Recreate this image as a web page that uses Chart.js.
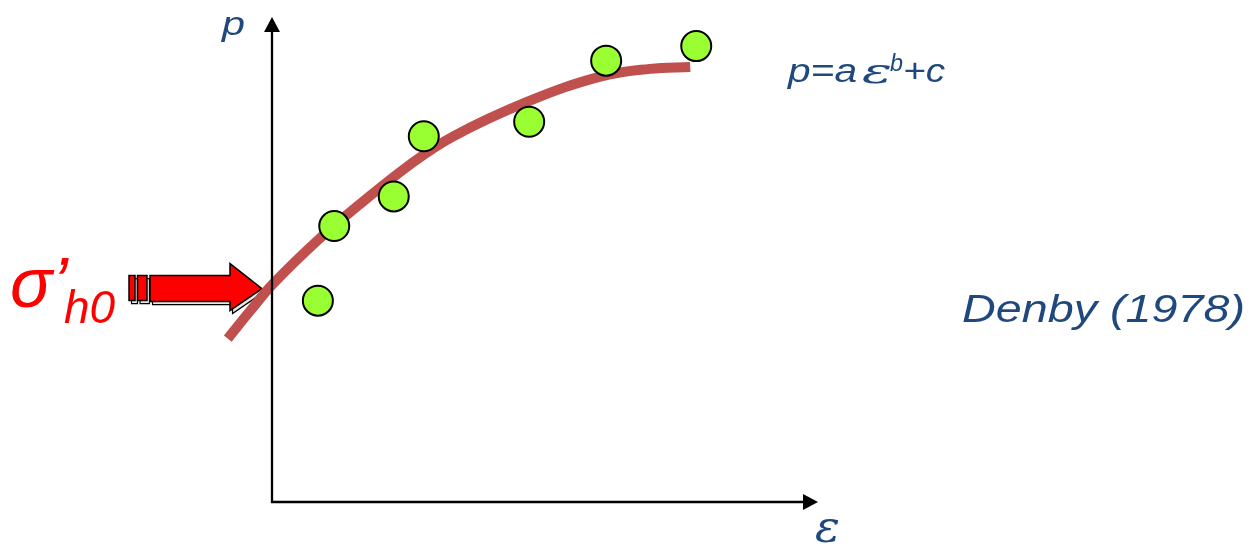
<!DOCTYPE html>
<html>
<head>
<meta charset="utf-8">
<script src="https://cdn.jsdelivr.net/npm/chart.js@4"></script>
<style>
html,body{margin:0;padding:0;background:#fff;}
#wrap{width:1252px;height:547px;position:relative;}
</style>
</head>
<body>
<div id="wrap"><canvas id="c"></canvas></div>
<script>
// Measured data points (strain ε, pressure p) in arbitrary units
const pointX = [0.84, 1.14, 2.23, 2.78, 4.71, 6.12, 7.77];
const pointY = [4.15, 5.69, 6.30, 7.54, 7.84, 9.10, 9.40];
// Fitted curve p = a ε^b + c
const curveX = [-0.81, -0.40, 0.02, 0.88, 1.61, 2.53, 3.32, 4.67, 6.01, 6.92, 7.66];
const curveY = [3.37, 3.94, 4.50, 5.44, 6.14, 6.96, 7.54, 8.25, 8.77, 8.93, 8.97];
// Labels
const yAxisLabel = "p";
const xAxisLabel = "ε";
const formulaParts = ["p=a", "ε", "b", "+c"];
const sourceLabel = "Denby (1978)";
const sigmaLabel = "σ’";
const sigmaSub = "h0";

const BLUE = "#1f497d";
const RED = "#ff0000";

function fitText(ctx, str, x, baseline, font, color, width) {
  ctx.save();
  ctx.font = font;
  ctx.fillStyle = color;
  ctx.textBaseline = "alphabetic";
  ctx.textAlign = "left";
  const w = ctx.measureText(str).width;
  const sx = width ? width / w : 1;
  ctx.translate(x, baseline);
  ctx.scale(sx, 1);
  ctx.fillText(str, 0, 0);
  ctx.restore();
}

const decorPlugin = {
  id: "decor",
  beforeDatasetsDraw(chart) {
    const ctx = chart.ctx;
    const yS = chart.scales.y;
    const xS = chart.scales.x;
    const cy = yS.getPixelForValue(4.4);
    const tipX = xS.getPixelForValue(0) - 10;
    const shaft = [[150, cy - 13], [230, cy - 13], [230, cy - 25], [tipX, cy], [230, cy + 22], [230, cy + 13], [150, cy + 13]];
    const bars = [[129, 135], [137.5, 147]];
    function drawShape(dx, dy, fill, stroke, lw) {
      ctx.save();
      ctx.translate(dx, dy);
      ctx.fillStyle = fill;
      ctx.strokeStyle = stroke;
      ctx.lineWidth = lw;
      ctx.lineJoin = "miter";
      ctx.beginPath();
      shaft.forEach((p, i) => i ? ctx.lineTo(p[0], p[1]) : ctx.moveTo(p[0], p[1]));
      ctx.closePath();
      ctx.fill(); ctx.stroke();
      bars.forEach(b => {
        ctx.beginPath();
        ctx.rect(b[0], cy - 13, b[1] - b[0], 25);
        ctx.fill(); ctx.stroke();
      });
      ctx.restore();
    }
    drawShape(2.5, 3, "#e8e8e8", "#000", 1.2);
    drawShape(0, 0, RED, "#000", 1.5);
  },
  afterDatasetsDraw(chart) {
    const ctx = chart.ctx;
    const a = chart.chartArea;
    const x0 = chart.scales.x.getPixelForValue(0), y0 = a.bottom;
    ctx.save();
    ctx.strokeStyle = "#000";
    ctx.fillStyle = "#000";
    ctx.lineWidth = 2.3;
    // y axis
    ctx.beginPath();
    ctx.moveTo(x0, y0 + 1);
    ctx.lineTo(x0, a.top + 14);
    ctx.stroke();
    ctx.beginPath();
    ctx.moveTo(x0, a.top);
    ctx.lineTo(x0 - 8, a.top + 15);
    ctx.lineTo(x0 + 8, a.top + 15);
    ctx.closePath();
    ctx.fill();
    // x axis
    ctx.beginPath();
    ctx.moveTo(x0 - 1, y0);
    ctx.lineTo(a.right - 14, y0);
    ctx.stroke();
    ctx.beginPath();
    ctx.moveTo(a.right, y0);
    ctx.lineTo(a.right - 15, y0 - 8);
    ctx.lineTo(a.right - 15, y0 + 8);
    ctx.closePath();
    ctx.fill();
    ctx.restore();
  },
  afterDraw(chart) {
    const ctx = chart.ctx;
    fitText(ctx, yAxisLabel, 222, 35, "italic 34px 'Liberation Sans'", BLUE, 23);
    fitText(ctx, xAxisLabel, 815, 542, "italic 44px 'DejaVu Serif'", BLUE, 25);
    fitText(ctx, formulaParts[0], 788, 82, "italic 34px 'Liberation Sans'", BLUE, 69);
    fitText(ctx, formulaParts[1], 862, 83, "italic 36px 'DejaVu Serif'", BLUE, 30);
    fitText(ctx, formulaParts[2], 890, 71, "italic 23px 'Liberation Sans'", BLUE, 13);
    fitText(ctx, formulaParts[3], 903, 82, "italic 34px 'Liberation Sans'", BLUE, 42);
    fitText(ctx, sourceLabel, 962, 322, "italic 38px 'Liberation Sans'", BLUE, 283);
    fitText(ctx, sigmaLabel, 10, 307, "italic 70px 'Liberation Sans'", RED, null);
    fitText(ctx, sigmaSub, 64, 323, "italic 46px 'Liberation Sans'", RED, null);
  }
};

new Chart(document.getElementById("c"), {
  type: "scatter",
  data: {
    datasets: [
      {
        label: "data",
        data: pointX.map((x, i) => ({x: x, y: pointY[i]})),
        showLine: false,
        pointRadius: 15,
        pointHoverRadius: 15,
        pointBackgroundColor: "#99ff33",
        pointBorderColor: "#000",
        pointBorderWidth: 2,
        order: 0,
        clip: false
      },
      {
        label: "fit",
        data: curveX.map((x, i) => ({x: x, y: curveY[i]})),
        showLine: true,
        pointRadius: 0,
        borderColor: "#c0504d",
        borderWidth: 10,
        borderCapStyle: "butt",
        tension: 0.4,
        fill: false,
        order: 1,
        clip: false
      }
    ]
  },
  options: {
    responsive: true,
    maintainAspectRatio: false,
    animation: false,
    events: [],
    layout: {padding: {left: 217.4, right: 434, top: 15, bottom: 45}},
    plugins: {legend: {display: false}, tooltip: {enabled: false}},
    scales: {
      x: {type: "linear", min: -1, max: 10, display: false},
      y: {type: "linear", min: 0, max: 10, display: false}
    }
  },
  plugins: [decorPlugin]
});
</script>
</body>
</html>
